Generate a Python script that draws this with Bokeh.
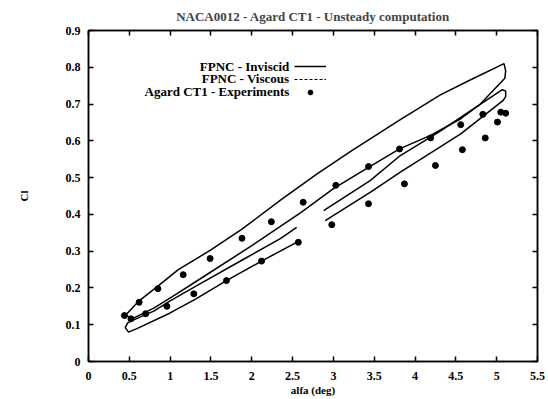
from bokeh.plotting import figure
from bokeh.models import (LinearAxis, FixedTicker, Label, Legend, LegendItem, CustomLabelingPolicy)
from bokeh.embed import file_html
from bokeh.resources import INLINE

# ---- data ----
exp_alpha = [0.44, 0.52, 0.62, 0.70, 0.85, 0.96, 1.16, 1.29, 1.49, 1.69, 1.88, 2.12, 2.24, 2.57, 2.63,
             2.98, 3.03, 3.43, 3.43, 3.81, 3.87, 4.19, 4.25, 4.56, 4.58, 4.83, 4.86, 5.01, 5.05, 5.11]
exp_cl = [0.125, 0.116, 0.161, 0.130, 0.198, 0.150, 0.236, 0.184, 0.280, 0.220, 0.335, 0.273, 0.380, 0.324, 0.433,
          0.372, 0.479, 0.429, 0.530, 0.578, 0.483, 0.608, 0.533, 0.644, 0.576, 0.672, 0.608, 0.651, 0.678, 0.675]

inv_alpha = [0.45, 0.62, 0.85, 1.10, 1.49, 1.88, 2.36, 2.80, 3.23, 3.80, 4.31, 4.70, 5.09, 5.11, 5.10,
             4.80, 4.56, 4.19, 3.81, 3.43, 3.00, 2.60, 2.00, 1.37, 1.08, 0.80, 0.55, 0.45]
inv_cl = [0.125, 0.165, 0.205, 0.250, 0.302, 0.360, 0.440, 0.510, 0.574, 0.655, 0.725, 0.768, 0.810, 0.790, 0.770,
          0.700, 0.660, 0.615, 0.578, 0.528, 0.470, 0.405, 0.315, 0.225, 0.184, 0.145, 0.118, 0.125]

# viscous loop, drawn in two pieces (gap near alfa = 2.6 .. 2.9)
vis_a_alpha = [2.90, 3.45, 3.82, 4.56, 5.08, 5.11, 5.11, 5.07, 4.70, 4.30, 3.82, 3.45, 2.88]
vis_a_cl = [0.383, 0.460, 0.515, 0.619, 0.710, 0.720, 0.735, 0.739, 0.685, 0.625, 0.560, 0.492, 0.410]
vis_b_alpha = [2.55, 2.35, 1.90, 1.37, 1.00, 0.80, 0.60, 0.48, 0.45, 0.49, 0.60, 1.00, 1.30, 1.69, 2.12, 2.60]
vis_b_cl = [0.365, 0.334, 0.278, 0.212, 0.165, 0.137, 0.118, 0.105, 0.092, 0.080, 0.090, 0.132, 0.168, 0.220, 0.273, 0.330]

x_ticks = [0, 0.5, 1, 1.5, 2, 2.5, 3, 3.5, 4, 4.5, 5, 5.5]
x_tick_labels = ["0", "0.5", "1", "1.5", "2", "2.5", "3", "3.5", "4", "4.5", "5", "5.5"]
y_ticks = [0, 0.1, 0.2, 0.3, 0.4, 0.5, 0.6, 0.7, 0.8, 0.9]
y_tick_labels = ["0", "0.1", "0.2", "0.3", "0.4", "0.5", "0.6", "0.7", "0.8", "0.9"]

legend_labels = ["FPNC - Inviscid", "FPNC - Viscous", "Agard CT1 - Experiments"]
title_text = "NACA0012 - Agard CT1 - Unsteady computation"

FONT = "Liberation Serif"

p = figure(width=548, height=399, output_backend="svg", toolbar_location=None,
           x_range=(0, 5.5), y_range=(0, 0.9),
           min_border_left=88, min_border_right=11, min_border_top=30, min_border_bottom=38,
           title=title_text)
p.title.text_font = FONT
p.title.text_font_size = "13px"
p.title.text_font_style = "bold"
p.title.align = "center"
p.title.standoff = 13
p.grid.visible = False
p.outline_line_color = "black"
p.outline_line_width = 1.5
p.background_fill_color = "white"
p.border_fill_color = "white"

xt = dict(zip(x_ticks, x_tick_labels))
yt = dict(zip(y_ticks, y_tick_labels))

for ax in p.xaxis:
    ax.ticker = FixedTicker(ticks=x_ticks)
    ax.major_label_overrides = xt
    ax.axis_label = "alfa (deg)"
    ax.axis_label_standoff = 1
    ax.major_label_standoff = 10
for ax in p.yaxis:
    ax.ticker = FixedTicker(ticks=y_ticks)
    ax.major_label_overrides = yt
    ax.axis_label = "Cl"
    ax.axis_label_standoff = 33
    ax.major_label_standoff = 8

def style_axis(ax):
    ax.major_tick_in = 5
    ax.major_tick_out = 0
    ax.minor_tick_line_color = None
    ax.axis_line_color = "black"
    ax.axis_line_width = 1.5
    ax.major_tick_line_width = 1.5
    ax.major_label_text_font = FONT
    ax.major_label_text_font_style = "bold"
    ax.major_label_text_font_size = "12px"
    ax.major_label_text_color = "black"
    ax.axis_label_text_font = FONT
    ax.axis_label_text_font_style = "bold"
    ax.axis_label_text_font_size = "11px"
    ax.axis_label_text_color = "black"

for ax in p.xaxis + p.yaxis:
    style_axis(ax)

hide_labels = CustomLabelingPolicy(code="for (const i of Array.from(indices)) indices.unset(i); return indices")
top = LinearAxis(ticker=FixedTicker(ticks=x_ticks))
right = LinearAxis(ticker=FixedTicker(ticks=y_ticks))
for ax in (top, right):
    style_axis(ax)
    ax.major_label_text_font_size = "0px"
    ax.major_label_policy = hide_labels
    ax.major_label_standoff = 0
p.add_layout(top, "above")
p.add_layout(right, "right")

inv_r = p.line(inv_alpha, inv_cl, line_color="black", line_width=1.5)
p.multi_line([vis_a_alpha, vis_b_alpha], [vis_a_cl, vis_b_cl], line_color="black", line_width=1.5)
vis_leg = p.line([float("nan")], [float("nan")], line_color="black", line_width=1.2, line_dash="3 2")
exp_r = p.scatter(exp_alpha, exp_cl, marker="circle", size=6, fill_color="black", line_color="black")

legend = Legend(items=[LegendItem(label=" ", renderers=[inv_r]),
                       LegendItem(label=" ", renderers=[vis_leg]),
                       LegendItem(label=" ", renderers=[exp_r])],
                location=(206, 263), glyph_width=32, glyph_height=12, label_height=12,
                label_width=0, label_standoff=0, spacing=1, padding=0, margin=0,
                border_line_color=None, background_fill_alpha=0, label_text_font_size="12px")
p.add_layout(legend, "center")

label_y = [0.802, 0.769, 0.734]
for txt, yy in zip(legend_labels, label_y):
    p.add_layout(Label(x=2.46, y=yy, text=txt, text_align="right", text_baseline="middle",
                       text_font=FONT, text_font_style="bold", text_font_size="13px",
                       text_color="black"))

open("out.html", "w").write(file_html(p, INLINE))
